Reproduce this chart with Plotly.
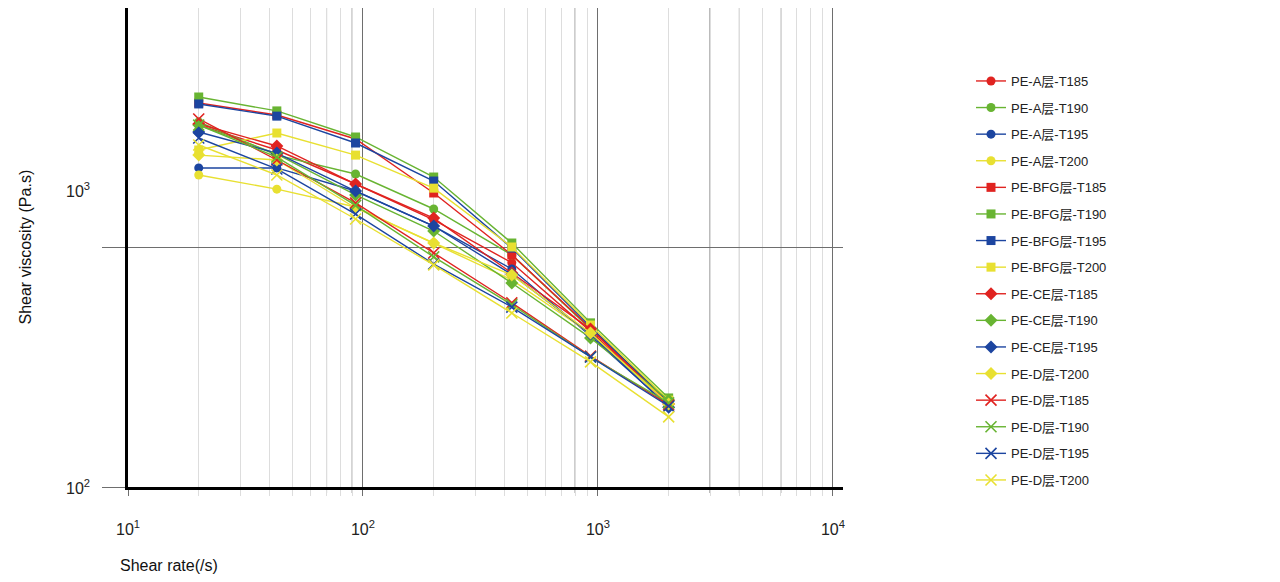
import plotly.graph_objects as go

# Shear rates (1/s) shared by all samples
shear_rate = [20, 43, 93, 200, 430, 930, 2000]

# Shear viscosity (Pa.s) per sample / temperature
pe_a_t185 = [3221, 2536, 1830, 1296, 860, 445, 220]
pe_a_t190 = [3318, 2415, 2014, 1440, 927, 455, 230]
pe_a_t195 = [2135, 2135, 1711, 1223, 810, 426, 217]
pe_a_t200 = [1995, 1742, 1468, 1039, 730, 435, 222]

pe_bfg_t185 = [3981, 3548, 2818, 1679, 927, 460, 220]
pe_bfg_t190 = [4217, 3690, 2873, 1957, 1039, 483, 235]
pe_bfg_t195 = [3945, 3510, 2712, 1883, 990, 465, 225]
pe_bfg_t200 = [2536, 2985, 2415, 1759, 1000, 473, 230]

pe_ce_t185 = [3254, 2636, 1830, 1320, 779, 455, 222]
pe_ce_t190 = [3221, 2438, 1647, 1166, 708, 418, 230]
pe_ce_t195 = [3013, 2462, 1711, 1223, 768, 434, 215]
pe_d_t200_b = [2415, 2304, 1454, 1039, 765, 438, 222]

pe_d_t185 = [3415, 2304, 1526, 944, 585, 351, 220]
pe_d_t190 = [3221, 2369, 1490, 909, 575, 348, 224]
pe_d_t195 = [2846, 2114, 1372, 849, 562, 348, 217]
pe_d_t200 = [2661, 1995, 1308, 842, 531, 332, 196]

names = [
    "PE-A层-T185", "PE-A层-T190", "PE-A层-T195", "PE-A层-T200",
    "PE-BFG层-T185", "PE-BFG层-T190", "PE-BFG层-T195", "PE-BFG层-T200",
    "PE-CE层-T185", "PE-CE层-T190", "PE-CE层-T195", "PE-D层-T200",
    "PE-D层-T185", "PE-D层-T190", "PE-D层-T195", "PE-D层-T200",
]
series = [
    pe_a_t185, pe_a_t190, pe_a_t195, pe_a_t200,
    pe_bfg_t185, pe_bfg_t190, pe_bfg_t195, pe_bfg_t200,
    pe_ce_t185, pe_ce_t190, pe_ce_t195, pe_d_t200_b,
    pe_d_t185, pe_d_t190, pe_d_t195, pe_d_t200,
]

RED, GREEN, BLUE, YELLOW = "#e02320", "#68b432", "#1c45a0", "#e8e031"
temp_colors = [RED, GREEN, BLUE, YELLOW]
symbols = ["circle", "square", "diamond", "x-thin"]

# Minor (2..9 x decade) grid positions and the few drawn darker
minor_x = [m * 10 ** d for d in (1, 2, 3) for m in range(2, 10)]
dark_x = [70, 90, 800, 3000, 4000, 6000]

FONT = "Liberation Sans, Arial, Helvetica, Noto Sans CJK SC, sans-serif"

fig = go.Figure()
for i, (name, vals) in enumerate(zip(names, series)):
    color = temp_colors[i % 4]
    sym = symbols[i // 4]
    if sym == "x-thin":
        marker = dict(symbol=sym, size=11, color=color, line=dict(color=color, width=1.6))
    else:
        marker = dict(symbol=sym, size=9 if sym != "diamond" else 10, color=color)
    fig.add_trace(go.Scatter(
        x=shear_rate, y=vals, name=name, mode="lines+markers",
        line=dict(color=color, width=1.4), marker=marker,
        legendgroup=f"g{i}",
    ))

shapes = []
for v in dark_x:
    shapes.append(dict(type="line", xref="x", yref="paper", x0=v, x1=v,
                       y0=-6 / 479, y1=1, line=dict(color="#6e6e6e", width=1), layer="below"))

annotations = [
    dict(text="10<sup>3</sup>", xref="paper", yref="paper", x=(78 - 128) / 715, y=(487 - 190) / 479,
         showarrow=False, xanchor="center", yanchor="middle",
         font=dict(size=16, color="#222", family=FONT)),
    dict(text="10<sup>2</sup>", xref="paper", yref="paper", x=(78 - 128) / 715, y=0,
         showarrow=False, xanchor="center", yanchor="middle",
         font=dict(size=16, color="#222", family=FONT)),
    dict(text="Shear viscosity (Pa.s)", xref="paper", yref="paper", x=(25 - 128) / 715, y=0.5,
         textangle=-90, showarrow=False, xanchor="center", yanchor="middle",
         font=dict(size=16, color="#111", family=FONT)),
    dict(text="Shear rate(/s)", xref="paper", yref="paper", x=(118 - 128) / 715, y=-78 / 479,
         showarrow=False, xanchor="left", yanchor="middle",
         font=dict(size=16, color="#111", family=FONT)),
]

fig.update_layout(
    width=1280, height=582,
    margin=dict(l=128, r=437, t=8, b=95),
    paper_bgcolor="white", plot_bgcolor="white",
    font=dict(family=FONT, color="#222"),
    showlegend=True,
    legend=dict(
        x=(971 - 128) / 715, xref="paper", y=1 - (66 - 8) / 479, yref="paper",
        xanchor="left", yanchor="top",
        font=dict(size=13, color="#222", family=FONT),
        traceorder="grouped", tracegroupgap=6.7, itemwidth=30,
        bgcolor="rgba(0,0,0,0)",
    ),
    shapes=shapes,
    annotations=annotations,
    xaxis=dict(
        type="log", range=[1, 4.043],
        tickvals=[10, 100, 1000, 10000],
        ticktext=["10<sup>1</sup>", "10<sup>2</sup>", "10<sup>3</sup>", "10<sup>4</sup>"],
        ticks="outside", ticklen=6, tickcolor="#6e6e6e", tickwidth=1,
        ticklabelstandoff=20,
        tickfont=dict(size=16, color="#222"),
        showgrid=True, gridcolor="#6e6e6e", gridwidth=1,
        minor=dict(tickmode="array", tickvals=minor_x, ticks="outside", ticklen=6,
                   tickcolor="#dddddd", showgrid=True, gridcolor="#dddddd", gridwidth=1),
        showline=True, linecolor="#000", linewidth=2.5,
        zeroline=False,
    ),
    yaxis=dict(
        type="log", range=[2, 2 + 479 / 240],
        tickvals=[100, 1000], showticklabels=False,
        ticks="outside", ticklen=23, tickcolor="#6e6e6e", tickwidth=1,
        showgrid=True, gridcolor="#6e6e6e", gridwidth=1,
        showline=True, linecolor="#000", linewidth=3,
        zeroline=False,
    ),
)

fig.write_html("out.html")
